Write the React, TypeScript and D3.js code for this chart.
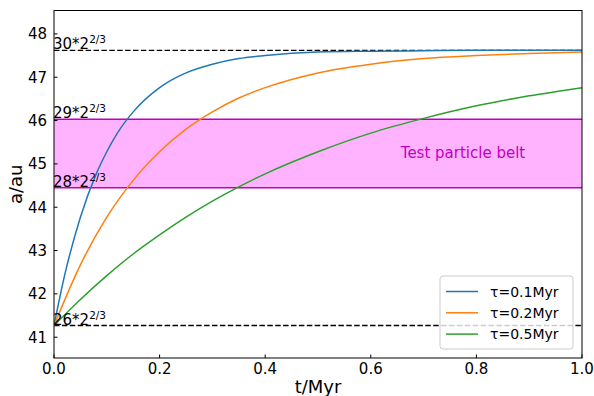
import React from 'react'
import * as d3 from 'd3'

const W = 594
const H = 396
const margin = { left: 54, right: 12, top: 10.5, bottom: 38 }

// time grid (Myr)
const tFast = [0, 0.02, 0.05, 0.08, 0.1, 0.12, 0.15, 0.2, 0.25, 0.3, 0.35, 0.4, 0.5, 0.6, 0.7, 0.8, 1.0]
const tSlow = [0, 0.05, 0.1, 0.15, 0.2, 0.25, 0.3, 0.35, 0.4, 0.5, 0.6, 0.7, 0.8, 0.9, 1.0]

// a/au
const aTau01 = [41.27, 42.42, 43.77, 44.77, 45.28, 45.71, 46.2, 46.76, 47.1, 47.3, 47.43, 47.5, 47.58, 47.6, 47.61, 47.62, 47.62]
const aTau02 = [41.27, 42.67, 43.77, 44.62, 45.28, 45.8, 46.2, 46.52, 46.76, 47.1, 47.3, 47.43, 47.5, 47.55, 47.58]
const aTau05 = [41.27, 41.87, 42.42, 42.92, 43.36, 43.77, 44.14, 44.47, 44.77, 45.28, 45.71, 46.05, 46.34, 46.57, 46.76]

const seriesNames = ['τ=0.1Myr', 'τ=0.2Myr', 'τ=0.5Myr']
const seriesColors = ['#1f77b4', '#ff7f0e', '#2ca02c']

const xTicks = [0, 0.2, 0.4, 0.6, 0.8, 1.0]
const yTicks = [41, 42, 43, 44, 45, 46, 47, 48]

// reference levels
const levels = [
  { value: 47.62, label: '30*2' },
  { value: 46.03, label: '29*2' },
  { value: 44.45, label: '28*2' },
  { value: 41.27, label: '26*2' },
]
const belt = [44.45, 46.03]

const font = 'DejaVu Sans, sans-serif'

const App = () => {
  const x = d3.scaleLinear().domain([0, 1]).range([margin.left, W - margin.right])
  const y = d3.scaleLinear().domain([40.52, 48.54]).range([H - margin.bottom, margin.top])

  const series = [
    tFast.map((t, i) => [t, aTau01[i]]),
    tSlow.map((t, i) => [t, aTau02[i]]),
    tSlow.map((t, i) => [t, aTau05[i]]),
  ]

  const line = d3.line<number[]>()
    .x(d => x(d[0]))
    .y(d => y(d[1]))
    .curve(d3.curveMonotoneX)

  const x0 = x(0)
  const x1 = x(1)
  const yTop = y(48.54)
  const yBot = y(40.52)

  const legX = 440
  const legY = 276

  return (
    <svg width={W} height={H} style={{ position: 'absolute', left: 0, top: 0, fontFamily: font }}>
      <rect width={W} height={H} fill='white' />
      <defs>
        <clipPath id='plot'>
          <rect x={x0} y={yTop} width={x1 - x0} height={yBot - yTop} />
        </clipPath>
      </defs>

      {/* belt */}
      <rect x={x0} y={y(belt[1])} width={x1 - x0} height={y(belt[0]) - y(belt[1])} fill='#ffb3ff' />
      {belt.map(b => (
        <line key={b} x1={x0} x2={x1} y1={y(b)} y2={y(b)} stroke='#bf00bf' strokeWidth={1.5} />
      ))}
      <text x={463} y={y(45.24) + 5} textAnchor='middle' fontSize={15} fill='#c000c0'>Test particle belt</text>

      {/* dashed limits */}
      {[levels[0], levels[3]].map(l => (
        <line key={l.value} x1={x0} x2={x1} y1={y(l.value)} y2={y(l.value)}
          stroke='black' strokeWidth={1.4} strokeDasharray='5.5,2.4' />
      ))}

      <g clipPath='url(#plot)'>
        {series.map((s, i) => (
          <path key={i} d={line(s) || ''} fill='none' stroke={seriesColors[i]} strokeWidth={1.5} />
        ))}
      </g>

      {levels.map(l => (
        <text key={l.label} x={x0 - 1} y={y(l.value) - 1} fontSize={15} fill='black'>
          {l.label}
          <tspan dy={-6} fontSize={10.5}>2/3</tspan>
        </text>
      ))}

      {/* frame */}
      <rect x={x0} y={yTop} width={x1 - x0} height={yBot - yTop} fill='none' stroke='black' strokeWidth={1} />

      {/* ticks */}
      {xTicks.map(t => (
        <g key={t}>
          <line x1={x(t)} x2={x(t)} y1={yBot} y2={yBot - 3.5} stroke='black' />
          <text x={x(t)} y={yBot + 16} textAnchor='middle' fontSize={15}>{t.toFixed(1)}</text>
        </g>
      ))}
      {yTicks.map(t => (
        <g key={t}>
          <line x1={x0} x2={x0 + 3.5} y1={y(t)} y2={y(t)} stroke='black' />
          <text x={x0 - 7} y={y(t) + 5.5} textAnchor='end' fontSize={15}>{t}</text>
        </g>
      ))}

      <text x={(x0 + x1) / 2} y={H - 3} textAnchor='middle' fontSize={18}>t/Myr</text>
      <text transform={`translate(22,${(yTop + yBot) / 2}) rotate(-90)`} textAnchor='middle' fontSize={18}>a/au</text>

      {/* legend */}
      <rect x={legX} y={legY} width={133} height={73} rx={3} fill='white' fillOpacity={0.8} stroke='#cccccc' />
      {seriesNames.map((n, i) => (
        <g key={n}>
          <line x1={legX + 6} x2={legX + 38} y1={legY + 15.5 + i * 21.3} y2={legY + 15.5 + i * 21.3}
            stroke={seriesColors[i]} strokeWidth={1.5} />
          <text x={legX + 50} y={legY + 20.5 + i * 21.3} fontSize={14}>{n}</text>
        </g>
      ))}
    </svg>
  )
}

export default App
